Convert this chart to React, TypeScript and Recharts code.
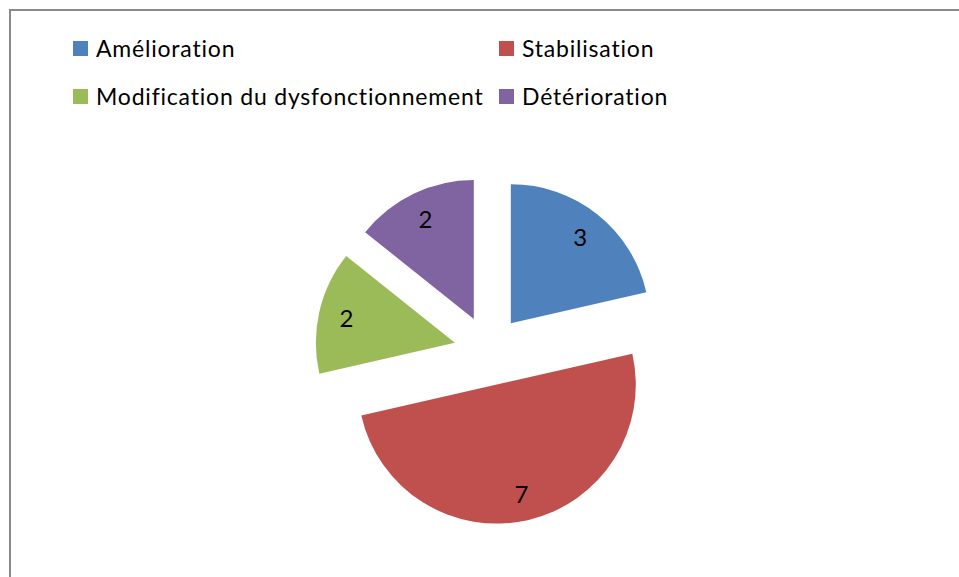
import { Cell, Pie, PieChart } from "recharts";

const categories = ["Amélioration", "Stabilisation", "Modification du dysfonctionnement", "Détérioration"];
const counts = [3, 7, 2, 2];
const colors = ["#4F81BD", "#C0504D", "#9BBB59", "#8064A2"];

const FONT = "Lato, 'Open Sans', sans-serif";
const CX = 489;
const CY = 350.5;
const RADIUS = 139;
const EXPLODE = 35;
const RAD = Math.PI / 180;

const data = categories.map((name, i) => ({ name, value: counts[i] }));
const total = counts.reduce((a, b) => a + b, 0);

// mid angle of each slice (recharts convention: degrees ccw from 3 o'clock)
function midAngleOf(idx: number): number {
  const before = counts.slice(0, idx).reduce((a, b) => a + b, 0);
  return 90 - ((before + counts[idx] / 2) / total) * 360;
}

function sliceLabel(own: number) {
  return (props: any) => {
    const { cx, cy, midAngle, outerRadius, index, value } = props;
    if (index !== own) return null;
    const r = outerRadius * 0.8;
    const x = cx + r * Math.cos(-midAngle * RAD);
    const y = cy + r * Math.sin(-midAngle * RAD);
    return (
      <text
        x={x}
        y={y}
        textAnchor="middle"
        dominantBaseline="central"
        fill="#000"
        style={{ fontFamily: FONT, fontSize: 24 }}
      >
        {value}
      </text>
    );
  };
}

function LegendBox({ idx, left, top }: { idx: number; left: number; top: number }) {
  return (
    <div style={{ position: "absolute", left, top, display: "flex", alignItems: "center", whiteSpace: "nowrap" }}>
      <span style={{ display: "inline-block", width: 15, height: 15, background: colors[idx], marginRight: 8 }} />
      <span style={{ fontFamily: FONT, fontSize: 23, letterSpacing: 0.8, color: "#000", lineHeight: "28px" }}>
        {categories[idx]}
      </span>
    </div>
  );
}

export default function App() {
  return (
    <div style={{ position: "absolute", left: 0, top: 0, width: 959, height: 577, background: "#fff", overflow: "hidden" }}>
      <div
        style={{
          position: "absolute",
          left: 9,
          top: 9,
          width: 960,
          height: 580,
          borderLeft: "2px solid #8a8a8a",
          borderTop: "2px solid #8a8a8a",
        }}
      />
      <PieChart width={959} height={577} margin={{ top: 0, right: 0, bottom: 0, left: 0 }} style={{ position: "absolute", left: 0, top: 0 }}>
        {data.map((_, k) => {
          const mid = midAngleOf(k);
          return (
            <Pie
              key={k}
              data={data}
              dataKey="value"
              nameKey="name"
              cx={CX + EXPLODE * Math.cos(mid * RAD)}
              cy={CY - EXPLODE * Math.sin(mid * RAD)}
              outerRadius={RADIUS}
              startAngle={90}
              endAngle={-270}
              stroke="none"
              label={sliceLabel(k)}
              labelLine={false}
              isAnimationActive={false}
            >
              {data.map((__, i) => (
                <Cell key={i} fill={i === k ? colors[i] : "none"} stroke="none" />
              ))}
            </Pie>
          );
        })}
      </PieChart>
      <LegendBox idx={0} left={73} top={34} />
      <LegendBox idx={1} left={499} top={34} />
      <LegendBox idx={2} left={73} top={82} />
      <LegendBox idx={3} left={499} top={82} />
    </div>
  );
}
